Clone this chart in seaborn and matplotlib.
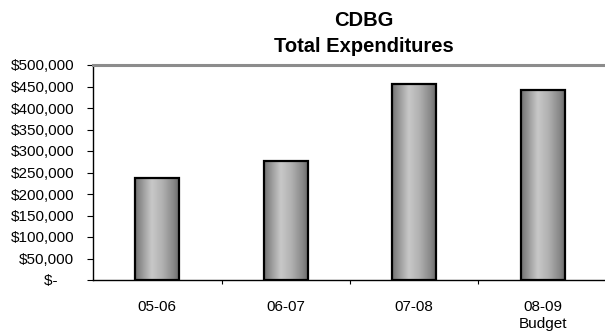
import numpy as np
import pandas as pd
import matplotlib
matplotlib.use("Agg")
import matplotlib.pyplot as plt
from matplotlib.colors import LinearSegmentedColormap
from matplotlib.ticker import FuncFormatter
import seaborn as sns

# Fiscal years and expenditures
years = ["05-06", "06-07", "07-08", "08-09\nBudget"]
expenditures = [238000, 277000, 455000, 442000]
y_ticks = [0, 50000, 100000, 150000, 200000, 250000, 300000, 350000, 400000, 450000, 500000]

sns.set_theme(style="white")
plt.rcParams["font.family"] = ["Liberation Sans", "DejaVu Sans"]

W, H = 605, 335
fig = plt.figure(figsize=(W / 100, H / 100), dpi=100)
left, right, top, bottom = 93, 607, 65, 280
ax = fig.add_axes([left / W, 1 - bottom / H, (right - left) / W, (bottom - top) / H])

df = pd.DataFrame({"year": years, "amount": expenditures})
sns.barplot(data=df, x="year", y="amount", ax=ax, width=0.34,
            color="#b0b0b0", edgecolor="black", linewidth=1.6, saturation=1)

# Horizontal metallic gradient for each bar
cmap = LinearSegmentedColormap.from_list(
    "metal", [(0.0, "#727272"), (0.12, "#8e8e8e"), (0.38, "#c8c8c8"),
              (0.62, "#b2b2b2"), (0.88, "#888888"), (1.0, "#6c6c6c")])
grad = np.linspace(0, 1, 256).reshape(1, -1)
for patch in ax.patches:
    x0, y0 = patch.get_x(), patch.get_y()
    w, h = patch.get_width(), patch.get_height()
    im = ax.imshow(grad, cmap=cmap, aspect="auto", extent=[x0, x0 + w, y0, y0 + h],
                   zorder=1.5, interpolation="bicubic")
    im.set_clip_path(patch)
    patch.set_facecolor("none")
    patch.set_zorder(2)
ax.set_xlim(-0.5, 3.5)
ax.set_ylim(0, 500000)

def money(v, _):
    if v == 0:
        return "$-    "
    return f"${int(v):,}"

ax.set_yticks(y_ticks)
ax.yaxis.set_major_formatter(FuncFormatter(money))
ax.set_xticks(range(len(years)))
ax.set_xticklabels(years, linespacing=1.25)
ax.set_xticks([0.5, 1.5, 2.5], minor=True)

ax.tick_params(axis="y", which="major", direction="out", length=4.5, width=0.8,
               color="black", labelsize=11, pad=9, left=True, labelcolor="black")
ax.tick_params(axis="x", which="major", length=0, labelsize=11, pad=14.5, labelcolor="black")
ax.tick_params(axis="x", which="minor", direction="out", length=3, width=0.8,
               color="black", bottom=True)

for side in ["left", "bottom"]:
    ax.spines[side].set_visible(True)
    ax.spines[side].set_color("black")
    ax.spines[side].set_linewidth(1.0)
ax.spines["right"].set_visible(False)
ax.spines["top"].set_visible(True)
ax.spines["top"].set_color("#8c8c8c")
ax.spines["top"].set_linewidth(2.2)

ax.set_xlabel("")
ax.set_ylabel("")

fig.text(364 / W, 1 - 20 / H, "CDBG", ha="center", va="center",
         fontsize=14.5, fontweight="bold", color="black")
fig.text(364 / W, 1 - 47 / H, "Total Expenditures", ha="center", va="center",
         fontsize=14.5, fontweight="bold", color="black")

fig.savefig("out.png", dpi=100)
